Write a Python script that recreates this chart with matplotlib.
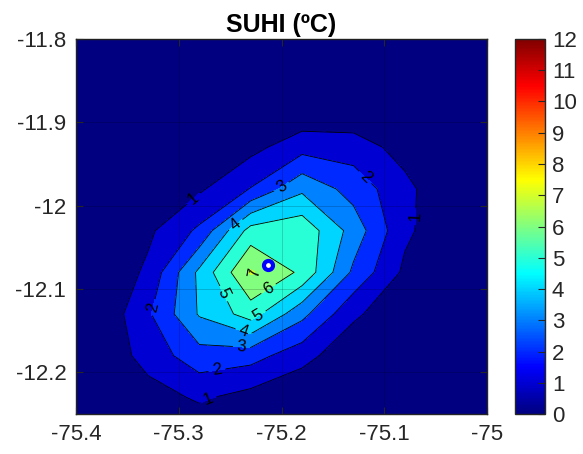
import matplotlib
matplotlib.use("Agg")
import matplotlib.pyplot as plt
import numpy as np
from matplotlib.colors import LinearSegmentedColormap, Normalize
from matplotlib.cm import ScalarMappable

plt.rcParams['font.family'] = ['Liberation Sans', 'DejaVu Sans']

# ---- data ----
lon = [-75.43, -75.38, -75.33, -75.28, -75.23, -75.18, -75.13, -75.08, -75.03, -74.98]
lat = [-11.78, -11.83, -11.88, -11.93, -11.98, -12.03, -12.08, -12.13, -12.18, -12.23, -12.28]
suhi = [
    [0.2, 0.2, 0.3, 0.3, 0.3, 0.2, 0.2, 0.1, 0.1, 0.1],
    [0.2, 0.3, 0.3, 0.3, 0.3, 0.3, 0.2, 0.2, 0.1, 0.1],
    [0.2, 0.3, 0.3, 0.3, 0.2, 0.0, 0.0, 0.2, 0.1, 0.1],
    [0.2, 0.2, 0.2, 0.3, 0.69, 1.63, 1.53, 0.6, 0.2, 0.1],
    [0.2, 0.1, 0.3, 0.85, 2.05, 3.8, 2.6, 1.3, 0.0, 0.1],
    [0.1, 0.2, 0.8, 2.2, 5.4, 5.7, 3.6, 1.2, 0.18, 0.1],
    [0.1, 0.0, 1.2, 4.22, 7.1, 5.8, 2.8, 0.8, 0.1, 0.1],
    [0.1, 0.05, 1.85, 4.1, 5.45, 3.3, 1.2, 0.18, 0.1, 0.1],
    [0.1, 0.13, 1.4, 2.6, 2.4, 1.4, 0.2, 0.1, 0.1, 0.1],
    [0.1, 0.1, 0.56, 1.15, 0.63, 0.05, 0.1, 0.1, 0.1, 0.1],
    [0.1, 0.1, 0.1, 0.1, 0.1, 0.1, 0.1, 0.1, 0.1, 0.1],
]
site_lon = [-75.2127]
site_lat = [-12.0711]

levels = list(range(0, 13))
xticks = [-75.4, -75.3, -75.2, -75.1, -75.0]
xticklabels = ["-75.4", "-75.3", "-75.2", "-75.1", "-75"]
yticks = [-11.8, -11.9, -12.0, -12.1, -12.2]
yticklabels = ["-11.8", "-11.9", "-12", "-12.1", "-12.2"]
cbar_ticks = list(range(0, 13))

# label positions (where MATLAB placed the contour labels)
label_pos = [(-75.2873, -11.9892), (-75.0676, -12.0133), (-75.2706, -12.2337),
             (-75.1137, -11.9602), (-75.3265, -12.1217), (-75.2627, -12.1976),
             (-75.2000, -11.9771), (-75.2392, -12.1759),
             (-75.2461, -12.0205), (-75.2382, -12.1554),
             (-75.2549, -12.1048), (-75.2216, -12.1337),
             (-75.2118, -12.1012), (-75.2265, -12.0807)]

# MATLAB-style jet colormap
mjet = LinearSegmentedColormap('mjet', {
    'red':   [(0, 0, 0), (0.375, 0, 0), (0.625, 1, 1), (0.875, 1, 1), (1, 0.5, 0.5)],
    'green': [(0, 0, 0), (0.125, 0, 0), (0.375, 1, 1), (0.625, 1, 1), (0.875, 0, 0), (1, 0, 0)],
    'blue':  [(0, 0.5, 0.5), (0.125, 1, 1), (0.375, 1, 1), (0.625, 0, 0), (1, 0, 0)],
}, N=256)
norm = Normalize(vmin=0, vmax=12)
fill_colors = [mjet(norm(v)) for v in levels[:-1]]

Z = np.array(suhi)

fig = plt.figure(figsize=(5.83, 4.54), dpi=100)
ax = fig.add_axes([0.1304, 0.0881, 0.7049, 0.8260])
cax = fig.add_axes([0.8834, 0.0881, 0.0515, 0.8260])

ax.contourf(lon, lat, Z, levels=levels, colors=fill_colors)
cl = ax.contour(lon, lat, Z, levels=levels[1:], colors='k', linewidths=0.6)
ax.clabel(cl, inline=True, fontsize=12, colors='k', manual=label_pos, inline_spacing=3)
ax.plot(site_lon, site_lat, 'o', mec=(0, 0, 1), mfc='white', ms=6.5, mew=3, zorder=5)

ax.set_xlim(-75.4, -75.0)
ax.set_ylim(-12.25, -11.8)
ax.set_xticks(xticks)
ax.set_xticklabels(xticklabels)
ax.set_yticks(yticks)
ax.set_yticklabels(yticklabels)
ax.grid(True, color='k', alpha=0.2, linewidth=0.6)
ax.set_axisbelow(False)
ax.tick_params(direction='in', top=True, right=True, length=5, width=0.8,
               labelsize=16, colors='0.15', pad=7)
for sp in ax.spines.values():
    sp.set_linewidth(1.0)
    sp.set_color('0.15')
ax.set_title("SUHI (ºC)", fontsize=18, fontweight='bold', pad=5)

cb = fig.colorbar(ScalarMappable(norm=norm, cmap=mjet), cax=cax, ticks=cbar_ticks)
cb.ax.tick_params(direction='in', labelsize=16, length=5, width=0.8, colors='0.15', pad=5)
cb.outline.set_linewidth(1.0)
cb.outline.set_edgecolor('0.15')

fig.savefig("out.png", dpi=100)
